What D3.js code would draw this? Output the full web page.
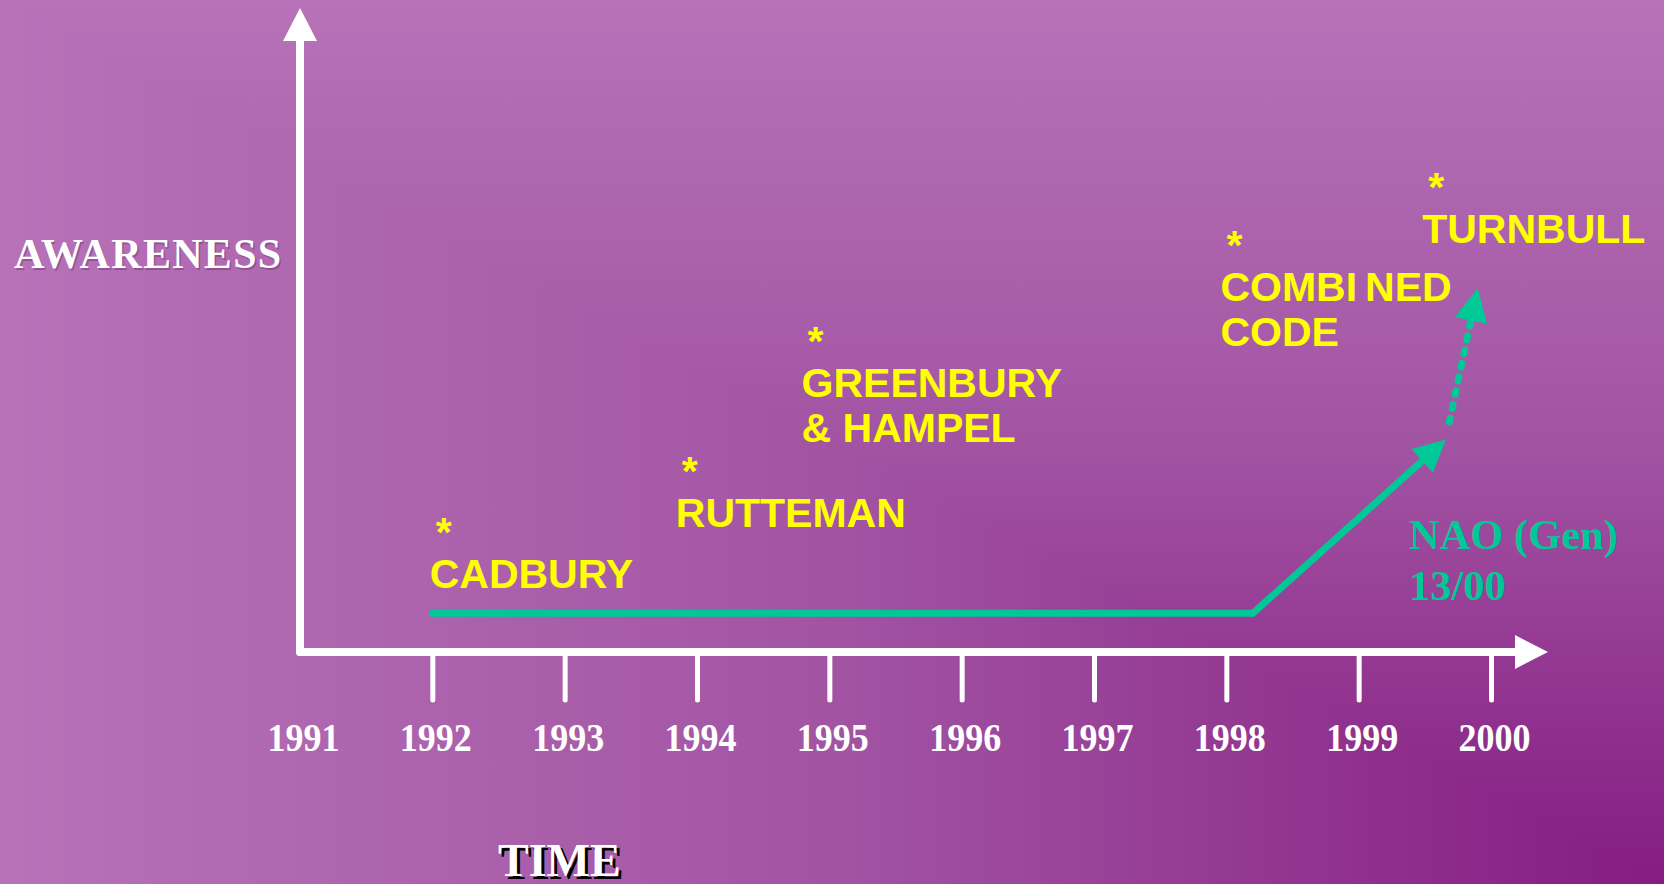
<!DOCTYPE html>
<html><head><meta charset="utf-8">
<script src="https://cdn.jsdelivr.net/npm/d3@7"></script>
<style>html,body{margin:0;padding:0;overflow:hidden;background:#9d479d}</style>
</head><body>
<svg id="chart" width="1664" height="884"></svg>
<script>
// ---------- data ----------
const tickYears = [1991, 1992, 1993, 1994, 1995, 1996, 1997, 1998, 1999, 2000];
const eventNames = [["CADBURY"], ["RUTTEMAN"], ["GREENBURY", "& HAMPEL"], ["COMBINED", "CODE"], ["TURNBULL"]];
const eventYears = [1991.98, 1993.84, 1994.79, 1997.955, 1999.48];
const eventLevels = [9.9, 19.4, 39.6, 54.5, 63.5];
const trendYears = [1992, 1998.2, 1999.66];
const trendLevels = [6, 6, 33];
const projYears = [1999.685, 1999.90];
const projLevels = [35.7, 56.5];
const trendLabel = ["NAO (Gen)", "13/00"];
const trendLabelYear = 1999.38;
const trendLabelLevel = 16.0;
const yTitle = "AWARENESS";
const xTitle = "TIME";

// ---------- setup ----------
const W = 1664, H = 884;
const svg = d3.select("#chart");
const defs = svg.append("defs");
const GREEN = "#00c896", YELLOW = "#ffff00";

const x = d3.scaleLinear().domain([1991, 2000]).range([300, 1491]);
const y = d3.scaleLinear().domain([0, 100]).range([652, 8]);

// background: "from corner" gradient (light top-left -> dark bottom-right)
function grad(id, x1, y1, x2, y2) {
  const g = defs.append("linearGradient").attr("id", id)
    .attr("gradientUnits", "userSpaceOnUse")
    .attr("x1", x1).attr("y1", y1).attr("x2", x2).attr("y2", y2);
  [[0, "#b772b8"], [0.5, "#a254a3"], [1, "#851c82"]].forEach(([o, c]) =>
    g.append("stop").attr("offset", o).attr("stop-color", c));
}
grad("gx", 0, 0, W, 0);
grad("gy", 0, 0, 0, H);
svg.append("rect").attr("width", W).attr("height", H).attr("fill", "url(#gx)");
svg.append("path").attr("d", `M0,0 L${W},0 L${W},${H} Z`).attr("fill", "url(#gy)");

// arrowhead helper
function arrowHead(p0, p1, L, w) {
  const dx = p1[0] - p0[0], dy = p1[1] - p0[1];
  const len = Math.hypot(dx, dy), ux = dx / len, uy = dy / len;
  const bx = p1[0] - ux * L, by = p1[1] - uy * L;
  const px = -uy, py = ux;
  return {
    base: [bx + ux * 3, by + uy * 3],
    path: `M${p1[0]},${p1[1]} L${bx + px * w},${by + py * w} L${bx - px * w},${by - py * w} Z`
  };
}

// ---------- axes ----------
const x0 = x(1991), y0 = y(0);
const axisEnd = x(2000) + 57;
const ax = svg.append("g");
// y axis
const yHead = arrowHead([x0, y0], [x0, y(100)], 33, 17);
ax.append("line").attr("x1", x0).attr("y1", y0).attr("x2", x0).attr("y2", yHead.base[1])
  .attr("stroke", "#fff").attr("stroke-width", 8).attr("stroke-linecap", "round");
ax.append("path").attr("d", yHead.path).attr("fill", "#fff");
// x axis
const xHead = arrowHead([x0, y0], [axisEnd, y0], 33, 17);
ax.append("line").attr("x1", x0).attr("y1", y0).attr("x2", xHead.base[0]).attr("y2", y0)
  .attr("stroke", "#fff").attr("stroke-width", 8).attr("stroke-linecap", "round");
ax.append("path").attr("d", xHead.path).attr("fill", "#fff");

// ticks & labels via d3 axis
const xAxis = d3.axisBottom(x).tickValues(tickYears).tickFormat(d3.format("d")).tickSize(48).tickPadding(0);
const gx = svg.append("g").attr("transform", `translate(0,${y0})`).call(xAxis);
gx.select(".domain").remove();
gx.selectAll(".tick line")
  .attr("stroke", "#fff").attr("stroke-width", 5).attr("stroke-linecap", "round")
  .attr("display", d => d === 1991 ? "none" : null);
gx.selectAll(".tick text")
  .attr("y", 99).attr("dy", 0).attr("dx", 3)
  .attr("fill", "#fff")
  .attr("font-family", "'Liberation Serif', 'Times New Roman', serif")
  .attr("font-weight", "bold").attr("font-size", 41)
  .attr("textLength", 72).attr("lengthAdjust", "spacingAndGlyphs");

// axis titles
function shadowText(txt, tx, ty, size, shadowColor, off, spacing) {
  const g = svg.append("g").attr("font-family", "'Liberation Serif', 'Times New Roman', serif")
    .attr("font-weight", "bold").attr("font-size", size).attr("letter-spacing", spacing);
  g.append("text").attr("x", tx + off).attr("y", ty + off).attr("fill", shadowColor).text(txt);
  g.append("text").attr("x", tx).attr("y", ty).attr("fill", "#fff").text(txt);
}
shadowText(yTitle, 14, 268, 42, "rgba(60,20,60,0.28)", 1.5, 1.3);
shadowText(xTitle, 498, 876, 46, "#000", 3, 0);

// ---------- trend line ----------
const trendPts = trendYears.map((d, i) => [x(d), y(trendLevels[i])]);
const tHead = arrowHead(trendPts[trendPts.length - 2], trendPts[trendPts.length - 1], 32, 16);
const trendDraw = trendPts.slice(0, -1).concat([tHead.base]);
svg.append("path").attr("d", d3.line()(trendDraw))
  .attr("fill", "none").attr("stroke", GREEN).attr("stroke-width", 7)
  .attr("stroke-linecap", "round").attr("stroke-linejoin", "miter");
svg.append("path").attr("d", tHead.path).attr("fill", GREEN);

// projected (dashed) continuation
const projPts = projYears.map((d, i) => [x(d), y(projLevels[i])]);
const pHead = arrowHead(projPts[0], projPts[1], 33, 16.5);
svg.append("path").attr("d", d3.line()([projPts[0], pHead.base]))
  .attr("fill", "none").attr("stroke", GREEN).attr("stroke-width", 7)
  .attr("stroke-linecap", "round").attr("stroke-dasharray", "4,10");
svg.append("path").attr("d", pHead.path).attr("fill", GREEN);

// trend label
const tl = svg.append("text")
  .attr("font-family", "'Liberation Serif', 'Times New Roman', serif")
  .attr("font-weight", "bold").attr("font-size", 42.5).attr("fill", GREEN);
trendLabel.forEach((t, i) => tl.append("tspan")
  .attr("x", x(trendLabelYear)).attr("y", y(trendLabelLevel) + i * 51).text(t));

// ---------- events ----------
const ev = svg.append("g")
  .attr("font-family", "'Liberation Sans', Arial, sans-serif")
  .attr("font-weight", "bold").attr("font-size", 41).attr("fill", YELLOW);
eventNames.forEach((lines, i) => {
  const ex = x(eventYears[i]), ey = y(eventLevels[i]);
  ev.append("text").attr("x", ex + 6).attr("y", ey - 42).text("*");
  const t = ev.append("text");
  lines.forEach((ln, j) => {
    const ts = t.append("tspan").attr("x", ex).attr("y", ey + j * 45);
    if (ln === "COMBINED") {
      ts.text("COMBI");
      t.append("tspan").attr("dx", 8).text("NED");
    } else ts.text(ln);
  });
});
</script>
</body></html>
